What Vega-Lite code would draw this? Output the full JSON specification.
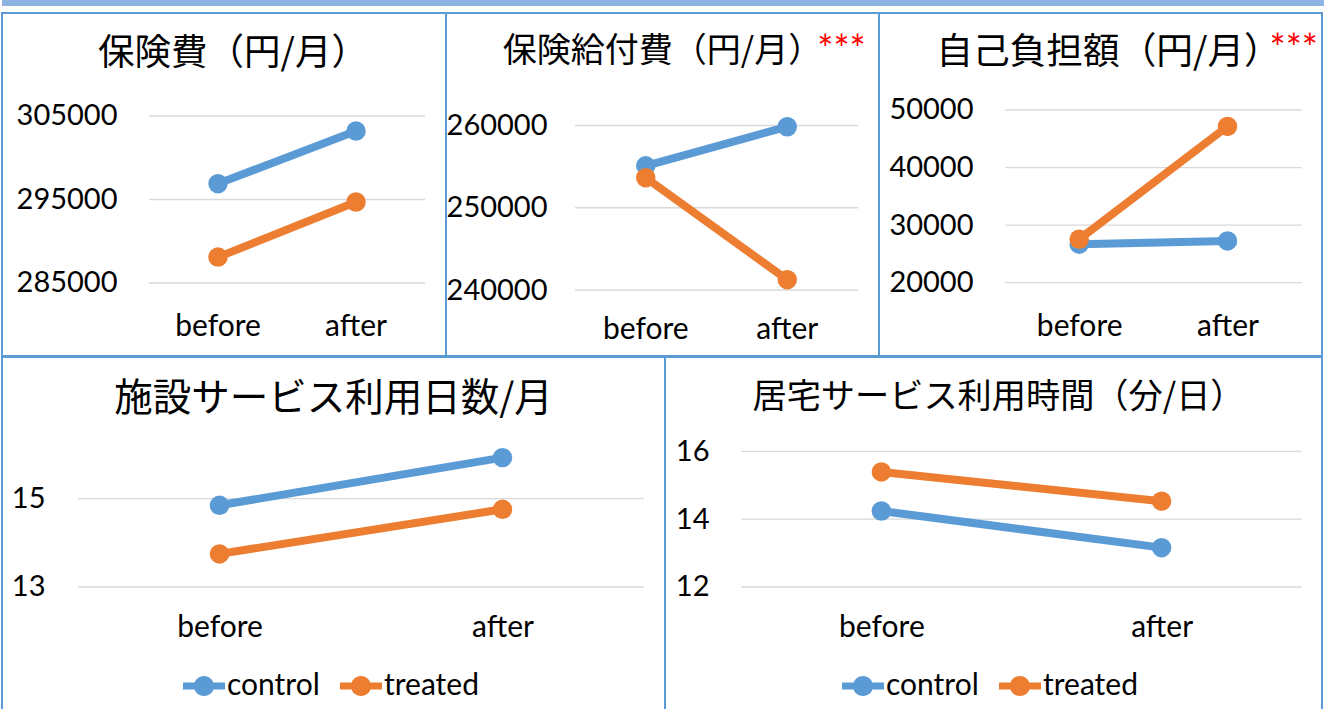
{
  "$schema": "https://vega.github.io/schema/vega-lite/v6.json",
  "padding": {"left": 1, "top": 0, "right": 0, "bottom": 0},
  "background": "white",
  "spacing": -2,
  "resolve": {"scale": {"color": "independent", "stroke": "independent"}, "legend": {"color": "independent", "stroke": "independent"}},
  "vconcat": [
    {
      "width": 1322, "height": 13,
      "view": {"stroke": null},
      "data": {"values": [{}]},
      "mark": {"type": "rect", "color": "#8EB4E3"},
      "encoding": {
        "x": {"datum": 0, "type": "quantitative", "scale": {"domain": [0, 1], "nice": false}, "axis": null},
        "x2": {"datum": 1},
        "y": {"datum": 13, "type": "quantitative", "scale": {"domain": [0, 13], "nice": false}, "axis": null},
        "y2": {"datum": 7}
      }
    },
    {
      "spacing": 0,
      "bounds": "flush",
      "resolve": {"scale": {"color": "independent", "stroke": "independent"}, "legend": {"color": "independent", "stroke": "independent"}},
      "hconcat": [
        {
          "width": 444, "height": 343,
          "view": {"stroke": "#5B9BD5", "strokeWidth": 2, "fill": "white"},
          "title": {"text": "保険費（円/月）", "fontSize": 36.5, "offset": -59, "dx": 9},
          "data": {"values": [
            {"period": "before", "group": "control", "value": 296900},
            {"period": "after", "group": "control", "value": 303200},
            {"period": "before", "group": "treated", "value": 288100},
            {"period": "after", "group": "treated", "value": 294700}
          ]},
          "layer": [
            {
              "data": {"values": [{"tick": 285000}, {"tick": 295000}, {"tick": 305000}]},
              "mark": {"type": "rule", "color": "#D9D9D9", "strokeWidth": 1.3},
              "encoding": {
                "x": {"datum": 0, "type": "quantitative", "scale": {"domain": [-0.5326, 1.0761], "nice": false, "zero": false}, "axis": null},
                "x2": {"datum": 1},
                "y": {"field": "tick", "type": "quantitative", "scale": {"domain": [276257, 317335], "nice": false, "zero": false}, "axis": {"title": null, "offset": -115, "values": [285000, 295000, 305000], "format": "d"}}
              }
            },
            {
              "mark": {"type": "line", "strokeWidth": 8},
              "encoding": {
                "x": {"field": "period", "type": "nominal", "bandPosition": 0.5, "scale": {"type": "band", "domain": ["before", "after"], "paddingInner": 0, "paddingOuter": 0.6087, "align": 0.875}, "axis": {"title": null, "offset": -21}},
                "y": {"field": "value", "type": "quantitative", "scale": {"domain": [276257, 317335], "nice": false, "zero": false}, "axis": {"title": null, "offset": -115, "values": [285000, 295000, 305000], "format": "d"}},
                "stroke": {"field": "group", "type": "nominal", "scale": {"domain": ["control", "treated"], "range": ["#5B9BD5", "#ED7D31"]}, "legend": null}
              }
            },
            {
              "mark": {"type": "point", "filled": true, "size": 380, "opacity": 1},
              "encoding": {
                "x": {"field": "period", "type": "nominal", "bandPosition": 0.5, "scale": {"type": "band", "domain": ["before", "after"], "paddingInner": 0, "paddingOuter": 0.6087, "align": 0.875}, "axis": null},
                "y": {"field": "value", "type": "quantitative", "axis": {"title": null, "offset": -115, "values": [285000, 295000, 305000], "format": "d"}},
                "color": {"field": "group", "type": "nominal", "scale": {"domain": ["control", "treated"], "range": ["#5B9BD5", "#ED7D31"]}, "legend": null}
              }
            }
          ],
          "resolve": {"scale": {"x": "independent"}}
        },
        {
          "width": 433, "height": 343,
          "view": {"stroke": "#5B9BD5", "strokeWidth": 2, "fill": "white"},
          "title": {"text": "保険給付費（円/月）", "fontSize": 34, "offset": -56},
          "data": {"values": [
            {"period": "before", "group": "control", "value": 255100},
            {"period": "after", "group": "control", "value": 259850},
            {"period": "before", "group": "treated", "value": 253650},
            {"period": "after", "group": "treated", "value": 241250}
          ]},
          "layer": [
            {
              "data": {"values": [{"tick": 240000}, {"tick": 250000}, {"tick": 260000}]},
              "mark": {"type": "rule", "color": "#D9D9D9", "strokeWidth": 1.3},
              "encoding": {
                "x": {"datum": 0, "type": "quantitative", "scale": {"domain": [-0.4558, 1.0742], "nice": false, "zero": false}, "axis": null},
                "x2": {"datum": 1},
                "y": {"field": "tick", "type": "quantitative", "scale": {"domain": [231976, 273678], "nice": false, "zero": false}, "axis": {"title": null, "offset": -101, "values": [240000, 250000, 260000], "format": "d"}}
              }
            },
            {
              "mark": {"type": "line", "strokeWidth": 8},
              "encoding": {
                "x": {"field": "period", "type": "nominal", "bandPosition": 0.5, "scale": {"type": "band", "domain": ["before", "after"], "paddingInner": 0, "paddingOuter": 0.53, "align": 0.86}, "axis": {"title": null, "offset": -18}},
                "y": {"field": "value", "type": "quantitative", "scale": {"domain": [231976, 273678], "nice": false, "zero": false}, "axis": {"title": null, "offset": -101, "values": [240000, 250000, 260000], "format": "d"}},
                "stroke": {"field": "group", "type": "nominal", "scale": {"domain": ["control", "treated"], "range": ["#5B9BD5", "#ED7D31"]}, "legend": null}
              }
            },
            {
              "mark": {"type": "point", "filled": true, "size": 380, "opacity": 1},
              "encoding": {
                "x": {"field": "period", "type": "nominal", "bandPosition": 0.5, "scale": {"type": "band", "domain": ["before", "after"], "paddingInner": 0, "paddingOuter": 0.53, "align": 0.86}, "axis": null},
                "y": {"field": "value", "type": "quantitative", "axis": {"title": null, "offset": -101, "values": [240000, 250000, 260000], "format": "d"}},
                "color": {"field": "group", "type": "nominal", "scale": {"domain": ["control", "treated"], "range": ["#5B9BD5", "#ED7D31"]}, "legend": null}
              }
            },
            {
              "data": {"values": [{"label": "***"}]},
              "mark": {"type": "text", "color": "#FF0000", "fontSize": 38, "font": "Lato", "align": "left", "baseline": "alphabetic", "dx": 30},
              "encoding": {
                "x": {"datum": "after", "type": "nominal", "bandPosition": 0.5, "scale": {"type": "band", "domain": ["before", "after"], "paddingInner": 0, "paddingOuter": 0.53, "align": 0.86}, "axis": null},
                "y": {"datum": 267599, "type": "quantitative", "axis": {"title": null, "offset": -101, "values": [240000, 250000, 260000], "format": "d"}},
                "text": {"field": "label"}
              }
            }
          ],
          "resolve": {"scale": {"x": "independent"}}
        },
        {
          "width": 443, "height": 343,
          "view": {"stroke": "#5B9BD5", "strokeWidth": 2, "fill": "white"},
          "title": {"text": "自己負担額（円/月）", "fontSize": 36.7, "offset": -59, "dx": 8},
          "data": {"values": [
            {"period": "before", "group": "control", "value": 26700},
            {"period": "after", "group": "control", "value": 27250},
            {"period": "before", "group": "treated", "value": 27550},
            {"period": "after", "group": "treated", "value": 47150}
          ]},
          "layer": [
            {
              "data": {"values": [{"tick": 20000}, {"tick": 30000}, {"tick": 40000}, {"tick": 50000}]},
              "mark": {"type": "rule", "color": "#D9D9D9", "strokeWidth": 1.3},
              "encoding": {
                "x": {"datum": 0, "type": "quantitative", "scale": {"domain": [-0.4247, 1.0684], "nice": false, "zero": false}, "axis": null},
                "x2": {"datum": 1},
                "y": {"field": "tick", "type": "quantitative", "scale": {"domain": [7267, 66849], "nice": false, "zero": false}, "axis": {"title": null, "offset": -94, "values": [20000, 30000, 40000, 50000], "format": "d"}}
              }
            },
            {
              "mark": {"type": "line", "strokeWidth": 8},
              "encoding": {
                "x": {"field": "period", "type": "nominal", "scale": {"type": "point", "domain": ["before", "after"], "padding": 0.9936, "align": 0.6793}, "axis": {"title": null, "offset": -21}},
                "y": {"field": "value", "type": "quantitative", "scale": {"domain": [7267, 66849], "nice": false, "zero": false}, "axis": {"title": null, "offset": -94, "values": [20000, 30000, 40000, 50000], "format": "d"}},
                "stroke": {"field": "group", "type": "nominal", "scale": {"domain": ["control", "treated"], "range": ["#5B9BD5", "#ED7D31"]}, "legend": null}
              }
            },
            {
              "mark": {"type": "point", "filled": true, "size": 380, "opacity": 1},
              "encoding": {
                "x": {"field": "period", "type": "nominal", "scale": {"type": "point", "domain": ["before", "after"], "padding": 0.9936, "align": 0.6793}, "axis": null},
                "y": {"field": "value", "type": "quantitative", "axis": {"title": null, "offset": -94, "values": [20000, 30000, 40000, 50000], "format": "d"}},
                "color": {"field": "group", "type": "nominal", "scale": {"domain": ["control", "treated"], "range": ["#5B9BD5", "#ED7D31"]}, "legend": null}
              }
            },
            {
              "data": {"values": [{"label": "***"}]},
              "mark": {"type": "text", "color": "#FF0000", "fontSize": 38, "font": "Lato", "align": "left", "baseline": "alphabetic", "dx": 42},
              "encoding": {
                "x": {"datum": "after", "type": "nominal", "scale": {"type": "point", "domain": ["before", "after"], "padding": 0.9936, "align": 0.6793}, "axis": null},
                "y": {"datum": 58338, "type": "quantitative", "axis": {"title": null, "offset": -94, "values": [20000, 30000, 40000, 50000], "format": "d"}},
                "text": {"field": "label"}
              }
            }
          ],
          "resolve": {"scale": {"x": "independent"}}
        }
      ]
    },
    {
      "spacing": 0,
      "bounds": "flush",
      "resolve": {"scale": {"color": "independent", "stroke": "independent"}, "legend": {"color": "independent", "stroke": "independent"}},
      "hconcat": [
        {
          "width": 663, "height": 358,
          "view": {"stroke": "#5B9BD5", "strokeWidth": 2, "fill": "white"},
          "title": {"text": "施設サービス利用日数/月", "fontSize": 38.5, "offset": -62},
          "data": {"values": [
            {"period": "before", "group": "control", "value": 14.85},
            {"period": "after", "group": "control", "value": 15.93},
            {"period": "before", "group": "treated", "value": 13.75},
            {"period": "after", "group": "treated", "value": 14.76}
          ]},
          "layer": [
            {
              "data": {"values": [{"tick": 13}, {"tick": 15}]},
              "mark": {"type": "rule", "color": "#D9D9D9", "strokeWidth": 1.3},
              "encoding": {
                "x": {"datum": 0, "type": "quantitative", "scale": {"domain": [-0.1343, 1.0371], "nice": false, "zero": false}, "axis": null},
                "x2": {"datum": 1},
                "y": {"field": "tick", "type": "quantitative", "scale": {"domain": [10.101, 18.209], "nice": false, "zero": false}, "axis": {"title": null, "offset": -43, "values": [13, 15], "format": "d"}}
              }
            },
            {
              "mark": {"type": "line", "strokeWidth": 8},
              "encoding": {
                "x": {"field": "period", "type": "nominal", "scale": {"type": "point", "domain": ["before", "after"], "padding": 0.6714, "align": 0.5724}, "axis": {"title": null, "offset": -79}},
                "y": {"field": "value", "type": "quantitative", "scale": {"domain": [10.101, 18.209], "nice": false, "zero": false}, "axis": {"title": null, "offset": -43, "values": [13, 15], "format": "d"}},
                "color": {"field": "group", "type": "nominal", "scale": {"domain": ["control", "treated"], "range": ["#5B9BD5", "#ED7D31"]},
                  "legend": {"orient": "none", "legendX": 181, "legendY": 308, "direction": "horizontal", "title": null, "padding": 0,
                    "symbolType": "M-1,-0.17L1,-0.17L1,0.17L-1,0.17Z M-0.48,0A0.48,0.48,0,1,1,0.48,0A0.48,0.48,0,1,1,-0.48,0Z",
                    "symbolSize": 1764, "symbolStrokeWidth": 0, "symbolOpacity": 1,
                    "labelFont": "Lato", "labelFontSize": 30, "labelColor": "#000000", "labelOffset": 2, "columnPadding": 20}}
              }
            },
            {
              "mark": {"type": "point", "filled": true, "size": 380, "opacity": 1},
              "encoding": {
                "x": {"field": "period", "type": "nominal", "scale": {"type": "point", "domain": ["before", "after"], "padding": 0.6714, "align": 0.5724}, "axis": null},
                "y": {"field": "value", "type": "quantitative", "axis": {"title": null, "offset": -43, "values": [13, 15], "format": "d"}},
                "color": {"field": "group", "type": "nominal", "scale": {"domain": ["control", "treated"], "range": ["#5B9BD5", "#ED7D31"]},
                  "legend": {"orient": "none", "legendX": 181, "legendY": 308, "direction": "horizontal", "title": null, "padding": 0,
                    "symbolType": "M-1,-0.17L1,-0.17L1,0.17L-1,0.17Z M-0.48,0A0.48,0.48,0,1,1,0.48,0A0.48,0.48,0,1,1,-0.48,0Z",
                    "symbolSize": 1764, "symbolStrokeWidth": 0, "symbolOpacity": 1,
                    "labelFont": "Lato", "labelFontSize": 30, "labelColor": "#000000", "labelOffset": 2, "columnPadding": 20}}
              }
            }
          ],
          "resolve": {"scale": {"x": "independent"}}
        },
        {
          "width": 657, "height": 358,
          "view": {"stroke": "#5B9BD5", "strokeWidth": 2, "fill": "white"},
          "title": {"text": "居宅サービス利用時間（分/日）", "fontSize": 34.2, "offset": -58, "dx": 5},
          "data": {"values": [
            {"period": "before", "group": "control", "value": 14.24},
            {"period": "after", "group": "control", "value": 13.16},
            {"period": "before", "group": "treated", "value": 15.39},
            {"period": "after", "group": "treated", "value": 14.53}
          ]},
          "layer": [
            {
              "data": {"values": [{"tick": 12}, {"tick": 14}, {"tick": 16}]},
              "mark": {"type": "rule", "color": "#D9D9D9", "strokeWidth": 1.3},
              "encoding": {
                "x": {"datum": 0, "type": "quantitative", "scale": {"domain": [-0.1362, 1.0362], "nice": false, "zero": false}, "axis": null},
                "x2": {"datum": 1},
                "y": {"field": "tick", "type": "quantitative", "scale": {"domain": [8.227, 18.779], "nice": false, "zero": false}, "axis": {"title": null, "offset": -44, "values": [12, 14, 16], "format": "d"}}
              }
            },
            {
              "mark": {"type": "line", "strokeWidth": 8},
              "encoding": {
                "x": {"field": "period", "type": "nominal", "scale": {"type": "point", "domain": ["before", "after"], "padding": 0.6724, "align": 0.5743}, "axis": {"title": null, "offset": -79}},
                "y": {"field": "value", "type": "quantitative", "scale": {"domain": [8.227, 18.779], "nice": false, "zero": false}, "axis": {"title": null, "offset": -44, "values": [12, 14, 16], "format": "d"}},
                "color": {"field": "group", "type": "nominal", "scale": {"domain": ["control", "treated"], "range": ["#5B9BD5", "#ED7D31"]},
                  "legend": {"orient": "none", "legendX": 177, "legendY": 308, "direction": "horizontal", "title": null, "padding": 0,
                    "symbolType": "M-1,-0.17L1,-0.17L1,0.17L-1,0.17Z M-0.48,0A0.48,0.48,0,1,1,0.48,0A0.48,0.48,0,1,1,-0.48,0Z",
                    "symbolSize": 1764, "symbolStrokeWidth": 0, "symbolOpacity": 1,
                    "labelFont": "Lato", "labelFontSize": 30, "labelColor": "#000000", "labelOffset": 2, "columnPadding": 20}}
              }
            },
            {
              "mark": {"type": "point", "filled": true, "size": 380, "opacity": 1},
              "encoding": {
                "x": {"field": "period", "type": "nominal", "scale": {"type": "point", "domain": ["before", "after"], "padding": 0.6724, "align": 0.5743}, "axis": null},
                "y": {"field": "value", "type": "quantitative", "axis": {"title": null, "offset": -44, "values": [12, 14, 16], "format": "d"}},
                "color": {"field": "group", "type": "nominal", "scale": {"domain": ["control", "treated"], "range": ["#5B9BD5", "#ED7D31"]},
                  "legend": {"orient": "none", "legendX": 177, "legendY": 308, "direction": "horizontal", "title": null, "padding": 0,
                    "symbolType": "M-1,-0.17L1,-0.17L1,0.17L-1,0.17Z M-0.48,0A0.48,0.48,0,1,1,0.48,0A0.48,0.48,0,1,1,-0.48,0Z",
                    "symbolSize": 1764, "symbolStrokeWidth": 0, "symbolOpacity": 1,
                    "labelFont": "Lato", "labelFontSize": 30, "labelColor": "#000000", "labelOffset": 2, "columnPadding": 20}}
              }
            }
          ],
          "resolve": {"scale": {"x": "independent"}}
        }
      ]
    }
  ],
  "config": {
    "view": {"stroke": null},
    "axis": {"grid": false, "domain": false, "ticks": false, "tickSize": 0, "labelPadding": 0, "labelFont": "Lato", "labelFontSize": 29, "labelColor": "#000000", "labelOverlap": false},
    "axisX": {"labelBaseline": "alphabetic", "labelAngle": 0, "labelFontSize": 30},
    "title": {"font": "Noto Sans CJK JP", "fontWeight": "normal", "color": "#000000", "anchor": "middle", "frame": "group", "baseline": "middle"}
  }
}
